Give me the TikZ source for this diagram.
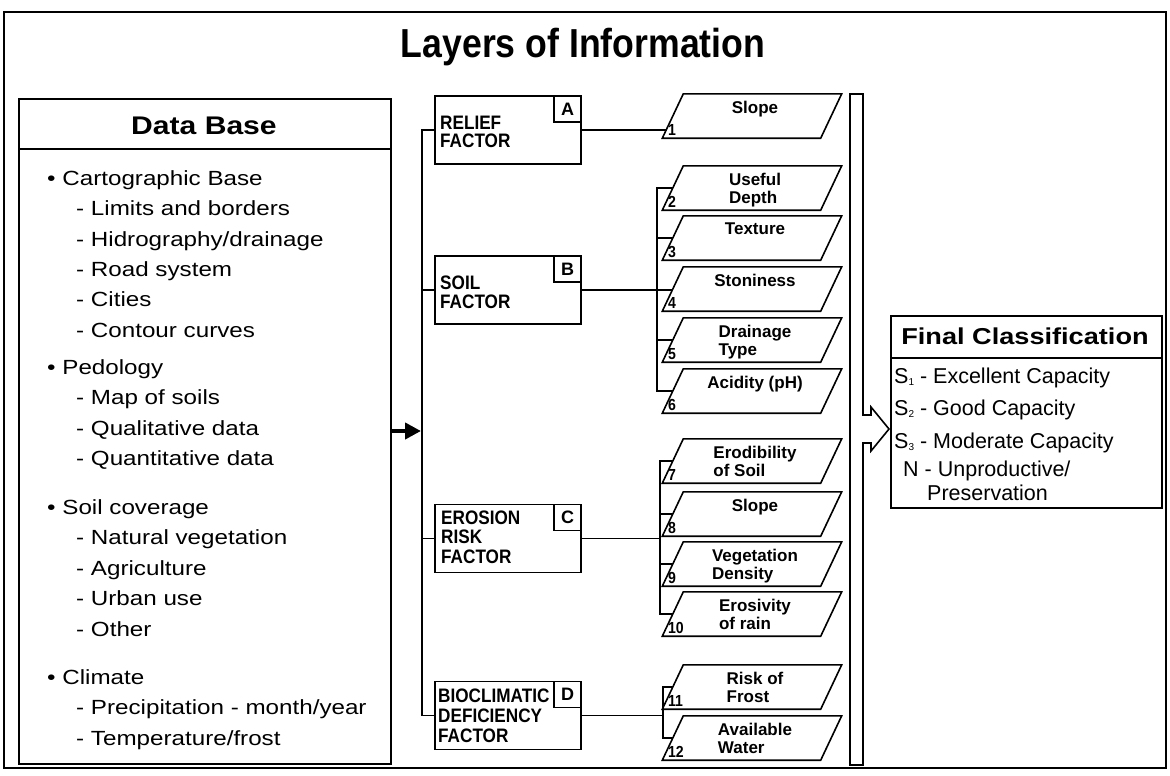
\documentclass[tikz,border=0pt]{standalone}
\usepackage{fontspec}
\setmainfont{Liberation Sans}
\newfontfamily\wideF[FakeStretch=1.18]{Liberation Sans}
\newfontfamily\narrowF[FakeStretch=0.88]{Liberation Sans}
\usetikzlibrary{calc,arrows.meta}
\newcommand\mkpara[4]{%
  \node[inner sep=0pt, minimum width=158pt, minimum height=44pt] (#1) at (752,#2+22) {};
  \draw[pline] ([xshift=10.5pt]#1.north west) -- ([xshift=10.5pt]#1.north east) -- ([xshift=-10.5pt]#1.south east) -- ([xshift=-10.5pt]#1.south west) -- cycle;
  \node[pnum] (#1-n) at ([xshift=-5pt,yshift=3pt]#1.south west) {#3};
  \node[plbl] (#1-t) at ([xshift=3pt,yshift=-7pt]#1.north) {#4};
}
\newcommand\tinysub[1]{\raisebox{-2.5pt}{\fontsize{10}{10}\selectfont #1}}
\begin{document}
\begin{tikzpicture}[x=1pt,y=-1pt,
  thk/.style={line width=1.8pt},
  fbox/.style={draw, line width=1.8pt, minimum width=146pt, minimum height=68pt, inner sep=0pt},
  kbox/.style={draw, line width=1.5pt, minimum width=27pt, minimum height=26pt, inner sep=0pt, font=\fontsize{18}{18}\selectfont\bfseries},
  flbl/.style={inner sep=0pt, anchor=base west, font=\narrowF\bfseries\fontsize{19.5}{19.5}\selectfont},
  dbl/.style={inner sep=0pt, anchor=base west, font=\wideF\fontsize{20.5}{24}\selectfont},
  plbl/.style={inner sep=0pt, anchor=north, align=left, font=\bfseries\fontsize{17}{18}\selectfont},
  pnum/.style={inner sep=0pt, anchor=base west, font=\narrowF\bfseries\fontsize{16}{16}\selectfont},
  fci/.style={inner sep=0pt, anchor=base west, font=\fontsize{21.5}{24}\selectfont},
  pline/.style={line width=1.6pt, line join=miter},
]
\fill[white] (0,0) rectangle (1170,776);
\useasboundingbox (0,0) rectangle (1170,776);
% outer frame and title
\draw[thk] (4,12) rectangle (1166,768);
\node[inner sep=0pt, anchor=base, font=\narrowF\bfseries\fontsize{40.5}{42}\selectfont] (title) at (583,58) {Layers of Information};

% Data Base
\node[draw, line width=1.8pt, minimum width=372pt, minimum height=665pt, inner sep=0pt, anchor=north west] (db) at (18,98) {};
\draw[thk] (db.west |- 0,149) -- (db.east |- 0,149);
\node[inner sep=0pt, anchor=base, font=\wideF\bfseries\fontsize{25.5}{26}\selectfont] (dbh) at (204,134) {Data Base};
\node[dbl] (d1) at (47,185.3) {• Cartographic Base};
\node[dbl] (d2) at (76,215.7) {- Limits and borders};
\node[dbl] (d3) at (76,246.1) {- Hidrography/drainage};
\node[dbl] (d4) at (76,276.5) {- Road system};
\node[dbl] (d5) at (76,306.9) {- Cities};
\node[dbl] (d6) at (76,337.3) {- Contour curves};
\node[dbl] (d7) at (47,374) {• Pedology};
\node[dbl] (d8) at (76,404.5) {- Map of soils};
\node[dbl] (d9) at (76,435) {- Qualitative data};
\node[dbl] (d10) at (76,465.5) {- Quantitative data};
\node[dbl] (d11) at (47,514) {• Soil coverage};
\node[dbl] (d12) at (76,544.5) {- Natural vegetation};
\node[dbl] (d13) at (76,575) {- Agriculture};
\node[dbl] (d14) at (76,605.5) {- Urban use};
\node[dbl] (d15) at (76,636) {- Other};
\node[dbl] (d16) at (47,684) {• Climate};
\node[dbl] (d17) at (76,714.5) {- Precipitation - month/year};
\node[dbl] (d18) at (76,745) {- Temperature/frost};

% factor boxes
\node[fbox] (relief) at (508,130) {};
\node[fbox] (soil) at (508,290) {};
\node[fbox] (erosion) at (508,538.5) {};
\node[fbox] (bio) at (508,715.5) {};
\node[kbox, anchor=north east] (relief-k) at (relief.north east) {A};
\node[kbox, anchor=north east] (soil-k) at (soil.north east) {B};
\node[kbox, anchor=north east] (erosion-k) at (erosion.north east) {C};
\node[kbox, anchor=north east] (bio-k) at (bio.north east) {D};
\node[flbl] (r1) at (440,129) {RELIEF};
\node[flbl] (r2) at (440,147) {FACTOR};
\node[flbl] (s1l) at (440,289) {SOIL};
\node[flbl] (s2l) at (440,308) {FACTOR};
\node[flbl] (e1) at (441,524) {EROSION};
\node[flbl] (e2) at (441,543) {RISK};
\node[flbl] (e3) at (441,563) {FACTOR};
\node[flbl] (b1) at (438,702) {BIOCLIMATIC};
\node[flbl] (b2) at (438,722) {DEFICIENCY};
\node[flbl] (b3) at (438,742) {FACTOR};

% bus
\coordinate (bus) at (422,0);
\draw[thk] (relief.west) -- (relief.west -| bus) -- (bio.west -| bus) -- (bio.west);
\draw[thk] (soil.west) -- (soil.west -| bus);
\draw[thk] (erosion.west) -- (erosion.west -| bus);
\draw[line width=4.5pt, -{Triangle[length=16pt,width=16pt]}, shorten >=1pt] (db.east |- 0,431) -- (bus |- 0,431);

% parallelograms
\mkpara{p1}{94}{1}{Slope}
\mkpara{p2}{166}{2}{Useful\\Depth}
\mkpara{p3}{216}{3}{Texture}
\mkpara{p4}{267}{4}{Stoniness}
\mkpara{p5}{318}{5}{Drainage\\Type}
\mkpara{p6}{369}{6}{Acidity (pH)}
\mkpara{p7}{439}{7}{Erodibility\\of Soil}
\mkpara{p8}{492}{8}{Slope}
\mkpara{p9}{542}{9}{Vegetation\\Density}
\mkpara{p10}{592}{10}{Erosivity\\of rain}
\mkpara{p11}{665}{11}{Risk of\\Frost}
\mkpara{p12}{716}{12}{Available\\Water}

% connectors to parallelograms
\coordinate (p1e) at ($(p1.south west)!0.2!(p1.north west)+(-6.3,0)$);
\draw[thk] (relief.east) -- (relief.east -| p1e);
\coordinate (bB) at (657,0);
\draw[thk] (p2.west) -- (p2.west -| bB) -- (p6.west -| bB) -- (p6.west);
\foreach \p in {p3,p5} \draw[thk] (\p.west) -- (\p.west -| bB);
\draw[thk] (soil.east) -- (soil.east -| p4.west);
\coordinate (bC) at (660,0);
\draw[thk] (p7.west) -- (p7.west -| bC) -- (p10.west -| bC) -- (p10.west);
\foreach \p in {p8,p9} \draw[thk] (\p.west) -- (\p.west -| bC);
\draw[thk] (erosion.east) -- (erosion.east -| bC);
\coordinate (bD) at (663,0);
\draw[thk] (p11.west) -- (p11.west -| bD) -- (p12.west -| bD) -- (p12.west);
\draw[thk] (bio.east) -- (bio.east -| bD);

% collecting bar with arrow
\draw[pline] (850,94) -- (863,94) -- (863,415) -- (871,415) -- (871,407) -- (889,429) -- (871,451) -- (871,443) -- (863,443) -- (863,765) -- (850,765) -- cycle;

% Final classification
\node[draw, line width=1.8pt, minimum width=271pt, minimum height=192pt, inner sep=0pt, anchor=north west] (fc) at (890,315) {};
\draw[thk] (fc.west |- 0,358) -- (fc.east |- 0,358);
\node[inner sep=0pt, anchor=base, font=\wideF\bfseries\fontsize{23}{24}\selectfont] (fch) at (1025,344) {Final Classification};
\node[fci] (c1) at (894,383) {S\tinysub{1} - Excellent Capacity};
\node[fci] (c2) at (894,415) {S\tinysub{2} - Good Capacity};
\node[fci] (c3) at (894,448) {S\tinysub{3} - Moderate Capacity};
\node[fci] (c4) at (903,476) {N - Unproductive/};
\node[fci] (c5) at (927,500) {Preservation};
\end{tikzpicture}
\end{document}
